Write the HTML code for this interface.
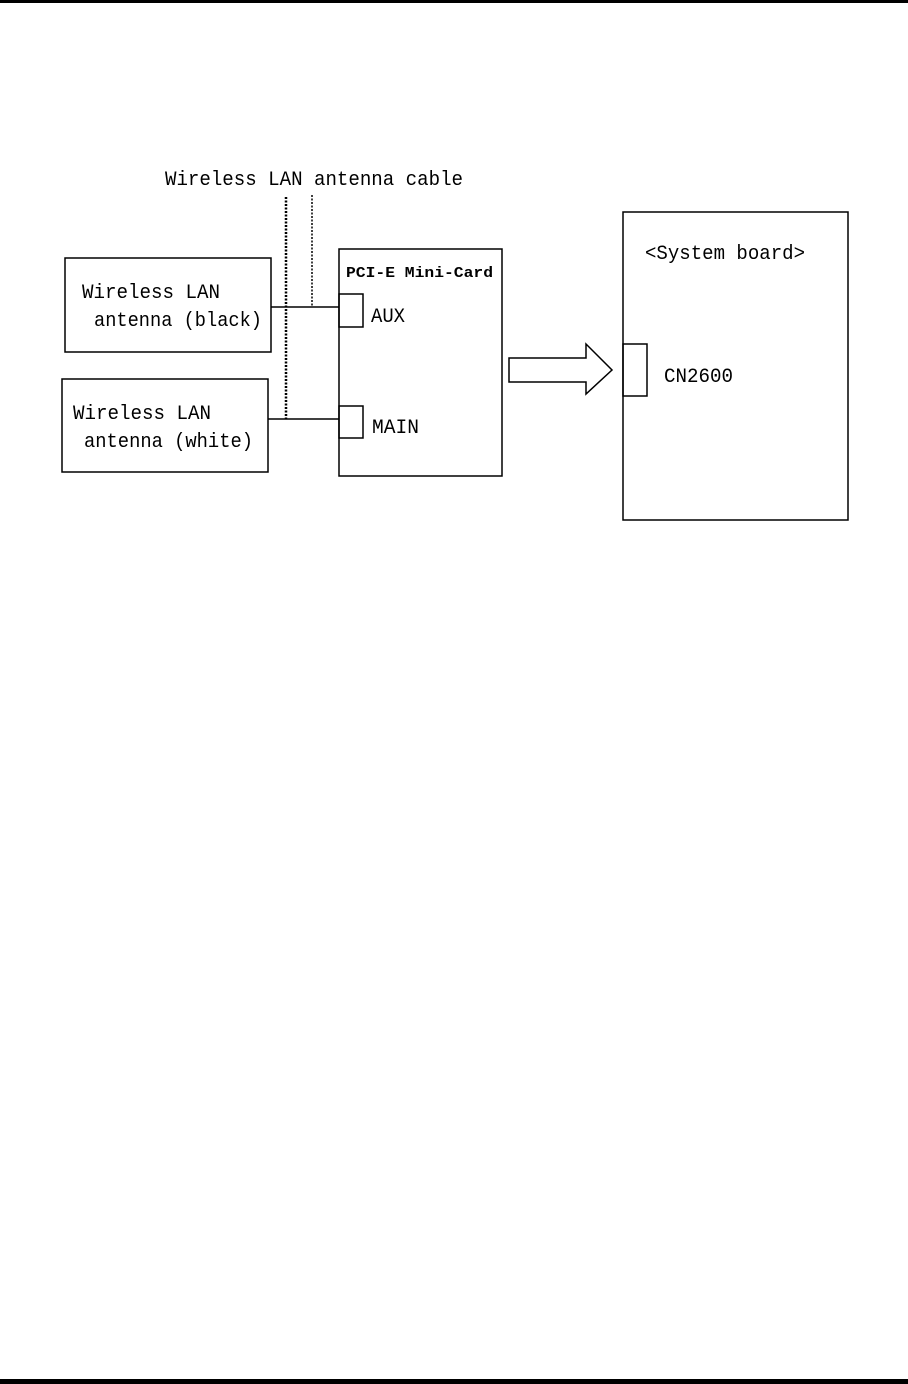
<!DOCTYPE html>
<html><head><meta charset="utf-8"><style>
html,body{margin:0;padding:0;background:#fff;}
svg{display:block;}
text{font-family:"Liberation Mono","DejaVu Sans Mono",monospace;fill:#000;}
</style></head><body>
<svg width="908" height="1384" viewBox="0 0 908 1384" xmlns="http://www.w3.org/2000/svg">
<rect x="0" y="0" width="908" height="3" fill="#000"/>
<rect x="0" y="1379" width="908" height="5" fill="#000"/>
<g fill="none" stroke="#000" stroke-width="1.5">
<rect x="65" y="258" width="206" height="94"/>
<rect x="62" y="379" width="206" height="93"/>
<rect x="339" y="249" width="163" height="227"/>
<rect x="339" y="294" width="24" height="33"/>
<rect x="339" y="406" width="24" height="32"/>
<rect x="623" y="212" width="225" height="308"/>
<rect x="623" y="344" width="24" height="52"/>
<line x1="271" y1="307" x2="339" y2="307"/>
<line x1="268" y1="419" x2="339" y2="419"/>
<polygon points="509,358 586,358 586,344 612,370 586,394 586,382 509,382"/>
</g>
<line x1="286" y1="197" x2="286" y2="419" stroke="#000" stroke-width="2.5" stroke-dasharray="2,1.5"/>
<line x1="312" y1="195" x2="312" y2="307" stroke="#000" stroke-width="1.5" stroke-dasharray="2,1.5"/>
<text x="165" y="185" font-size="20" textLength="298" lengthAdjust="spacingAndGlyphs">Wireless LAN antenna cable</text>
<text x="82" y="298" font-size="20" textLength="138" lengthAdjust="spacingAndGlyphs">Wireless LAN</text>
<text x="94" y="326" font-size="20" textLength="168" lengthAdjust="spacingAndGlyphs">antenna (black)</text>
<text x="73" y="419" font-size="20" textLength="138" lengthAdjust="spacingAndGlyphs">Wireless LAN</text>
<text x="84" y="447" font-size="20" textLength="169" lengthAdjust="spacingAndGlyphs">antenna (white)</text>
<text x="346" y="277" font-size="15" font-weight="bold" textLength="147" lengthAdjust="spacingAndGlyphs">PCI-E Mini-Card</text>
<text x="371" y="322" font-size="20" textLength="34" lengthAdjust="spacingAndGlyphs">AUX</text>
<text x="372" y="433" font-size="20" textLength="47" lengthAdjust="spacingAndGlyphs">MAIN</text>
<text x="645" y="259" font-size="20" textLength="160" lengthAdjust="spacingAndGlyphs">&lt;System board&gt;</text>
<text x="664" y="382" font-size="20" textLength="69" lengthAdjust="spacingAndGlyphs">CN2600</text>
</svg>
</body></html>
